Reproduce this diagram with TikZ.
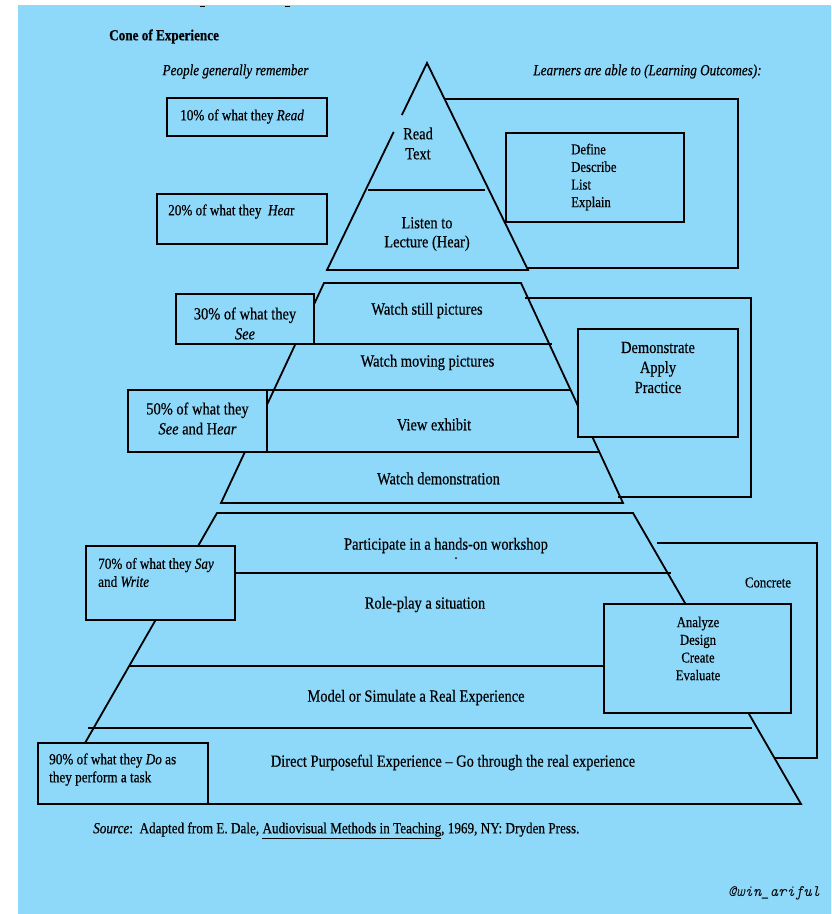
\documentclass[tikz,border=0pt]{standalone}
\usepackage{fontspec}
\setmainfont{Liberation Serif}[FakeStretch=0.85,FakeBold=0.4]
\usetikzlibrary{calc,fit}
\definecolor{sky}{RGB}{142,216,250}
\tikzset{
  edge/.style={line width=1.8pt, line join=miter},
  box/.style={draw, line width=1.8pt, fill=sky, inner sep=0pt},
  big/.style={inner sep=0pt, align=center, yshift=-1.5pt, font=\fontsize{17}{20}\selectfont},
  small/.style={inner sep=0pt, align=left, yshift=-1.5pt, font=\fontsize{15.5}{18}\selectfont},
}
\begin{document}
\begin{tikzpicture}[x=1pt,y=-1pt]
  % page and coloured sheet
  \useasboundingbox (0,0) rectangle (831,914);
  \fill[white] (0,0) rectangle (831,914);
  \fill[sky] (18,5) rectangle (831,914);
  \draw[line width=1.6pt] (200,6.5) -- (205,6.5);
  \draw[line width=1.6pt] (285,6.5) -- (290,6.5);

  % ---- top of the cone: reading and listening ----
  \coordinate (apex) at (427,63);
  \coordinate (tl) at (327,270);
  \coordinate (tr) at (528,270);
  \draw[edge] ($(apex)!0.333!(tl)$) -- (tl) -- (tr) -- (apex) -- ($(apex)!0.251!(tl)$);
  \draw[edge] (368,190) -- (485,190);
  \draw[edge] (445,99) -- (738,99) -- (738,268) -- (527,268);

  % ---- middle band: pictures, exhibits, demonstrations ----
  \coordinate (mtl) at (324,283);
  \coordinate (mtr) at (521,283);
  \coordinate (mbl) at (221,503);
  \coordinate (mbr) at (623,503);
  \draw[edge] (mbl) -- (mtl) -- (mtr) -- (mbr) -- cycle;
  \draw[edge] (314,344) -- (552,344);
  \draw[edge] (267,390) -- (571,390);
  \draw[edge] (245,452) -- (599,452);
  \draw[edge] (525,298) -- (751,298) -- (751,497) -- (618,497);

  % ---- base of the cone: doing ----
  \coordinate (btl) at (217,513);
  \coordinate (btr) at (633,513);
  \coordinate (bbl) at (50,804);
  \coordinate (bbr) at (801,804);
  \draw[edge] (bbl) -- (btl) -- (btr) -- (bbr) -- cycle;
  \draw[edge] (182,573) -- (671,573);
  \draw[edge] (129,666) -- (604,666);
  \draw[edge] (88,728) -- (752,728);
  \draw[edge] (657,543) -- (817,543) -- (817,758) -- (775,758);
  \fill (456,558) circle (1pt);

  % ---- boxes ----
  \node[box, fit={(167,98) (327,136)}] (b10) {};
  \node[box, fit={(157,194) (327,244)}] (b20) {};
  \node[box, fit={(176,294) (314,344)}] (b30) {};
  \node[box, fit={(128,390) (267,452)}] (b50) {};
  \node[box, fit={(86,546) (235,620)}] (b70) {};
  \node[box, fit={(38,743) (208,804)}] (b90) {};
  \node[box, fit={(506,133) (684,222)}] (bdef) {};
  \node[box, fit={(578,329) (738,437)}] (bdem) {};
  \node[box, fit={(604,604) (791,713)}] (bana) {};

  % ---- headings ----
  \node[small, anchor=west, font=\fontsize{15.5}{18}\selectfont\bfseries] (title) at (109,35) {Cone of Experience};
  \node[small, font=\fontsize{15.5}{18}\selectfont\itshape] (left) at (235.5,70) {People generally remember};
  \node[small, font=\fontsize{15.5}{18}\selectfont\itshape] (right) at (647.5,70) {Learners are able to (Learning Outcomes):};

  % ---- remembering percentages ----
  \node[small, anchor=west] (t10) at (180,115) {10\% of what they \textit{Read}};
  \node[small, anchor=west] (t20) at (168,210) {20\% of what they\ \ \textit{Hea}r};
  \node[big] (t30) at (245,322) {30\% of what they\\\textit{See}};
  \node[big] (t50) at (197.5,417) {50\% of what they\\\textit{See} and H\textit{ear}};
  \node[small, anchor=west] (t70) at (98,571) {70\% of what they \textit{Say}\\and \textit{Write}};
  \node[small, anchor=west] (t90) at (49,768) {90\% of what they \textit{Do} as\\they perform a task};

  % ---- layers of the cone ----
  \node[big] (read) at (418,142) {Read\\Text};
  \node[big, font=\fontsize{17}{19}\selectfont] (listen) at (427,232.5) {Listen to\\Lecture (Hear)};
  \node[big] (still) at (427,309) {Watch still pictures};
  \node[big] (moving) at (427.5,361) {Watch moving pictures};
  \node[big] (exhibit) at (434,423) {View exhibit};
  \node[big] (demo) at (438.5,477) {Watch demonstration};
  \node[big] (work) at (446,544) {Participate in a hands-on workshop};
  \node[big] (role) at (425,603) {Role-play a situation};
  \node[big] (model) at (416,696) {Model or Simulate a Real Experience};
  \node[big] (direct) at (453,761) {Direct Purposeful Experience -- Go through the real experience};

  % ---- learning outcomes ----
  \node[small, anchor=west, font=\fontsize{15}{17.6}\selectfont] (tdef) at (571,175.5) {Define\\Describe\\List\\Explain};
  \node[big] (tdem) at (658,366) {Demonstrate\\Apply\\Practice};
  \node[small, align=center, font=\fontsize{15}{17.7}\selectfont] (tana) at (698,647) {Analyze\\Design\\Create\\Evaluate};
  \node[small, font=\fontsize{15}{18}\selectfont] (concrete) at (768,581) {Concrete};

  % ---- footer ----
  \node[small, anchor=west] (source) at (93,829) {\textit{Source}:\ \ Adapted from E. Dale, \underline{Audiovisual Methods in Teaching}, 1969, NY: Dryden Press.};
  \node[inner sep=0pt, font=\fontsize{16}{18}\selectfont\ttfamily\itshape] (mark) at (774,893) {@win\_ariful};
\end{tikzpicture}
\end{document}
